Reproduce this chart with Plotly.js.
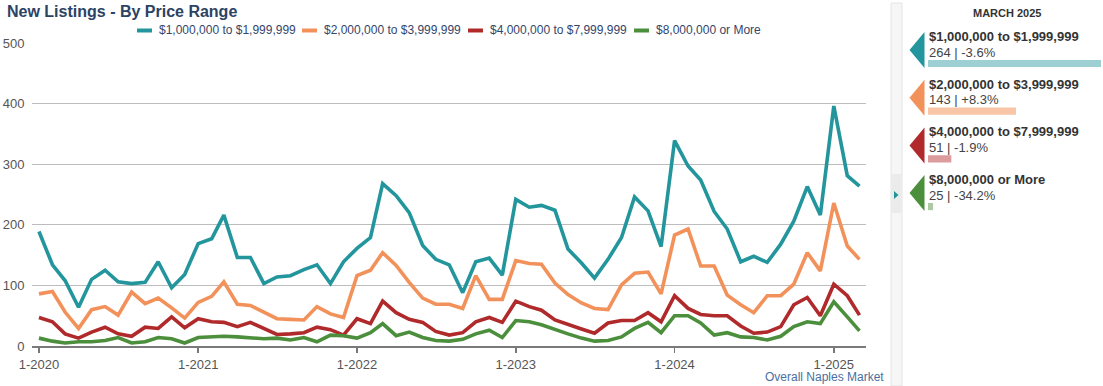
<!DOCTYPE html>
<html>
<head>
<meta charset="utf-8">
<script src="https://cdn.plot.ly/plotly-3.0.1.min.js"></script>
<style>
  html, body { margin: 0; padding: 0; background: #ffffff; }
  #chart { width: 1103px; height: 386px; }
</style>
</head>
<body>
<div id="chart"></div>
<script>
// ---------------- DATA ----------------
const months = [
  '2020-01','2020-02','2020-03','2020-04','2020-05','2020-06','2020-07','2020-08','2020-09','2020-10','2020-11','2020-12',
  '2021-01','2021-02','2021-03','2021-04','2021-05','2021-06','2021-07','2021-08','2021-09','2021-10','2021-11','2021-12',
  '2022-01','2022-02','2022-03','2022-04','2022-05','2022-06','2022-07','2022-08','2022-09','2022-10','2022-11','2022-12',
  '2023-01','2023-02','2023-03','2023-04','2023-05','2023-06','2023-07','2023-08','2023-09','2023-10','2023-11','2023-12',
  '2024-01','2024-02','2024-03','2024-04','2024-05','2024-06','2024-07','2024-08','2024-09','2024-10','2024-11','2024-12',
  '2025-01','2025-02','2025-03'
];

const seriesNames = [
  '$1,000,000 to $1,999,999',
  '$2,000,000 to $3,999,999',
  '$4,000,000 to $7,999,999',
  '$8,000,000 or More'
];

const range1to2M = [
  189, 134, 108, 64, 110, 125, 106, 103, 105, 139, 96, 118,
  169, 177, 216, 146, 146, 103, 114, 116, 126, 134, 103, 139,
  161, 179, 268, 248, 220, 166, 143, 134, 88, 139, 145, 117,
  242, 229, 232, 224, 160, 137, 112, 143, 179, 246, 223, 164,
  339, 297, 274, 222, 193, 139, 148, 138, 168, 206, 263, 216,
  396, 281, 264
];
const range2to4M = [
  86, 90, 56, 29, 60, 65, 51, 89, 70, 79, 63, 46,
  72, 82, 106, 69, 67, 56, 45, 44, 43, 65, 53, 47,
  116, 125, 154, 133, 105, 79, 69, 69, 62, 116, 77, 77,
  141, 136, 135, 104, 85, 71, 62, 60, 101, 120, 122, 86,
  183, 193, 132, 132, 84, 68, 55, 83, 83, 102, 154, 124,
  236, 165, 143
];
const range4to8M = [
  47, 40, 20, 13, 23, 31, 20, 16, 31, 29, 48, 30,
  45, 40, 39, 32, 39, 28, 19, 20, 22, 31, 27, 18,
  45, 37, 74, 55, 44, 39, 24, 18, 22, 40, 47, 39,
  74, 65, 59, 43, 35, 28, 21, 38, 42, 42, 55, 40,
  83, 62, 52, 50, 50, 33, 21, 23, 32, 68, 80, 50,
  102, 83, 51
];
const range8MPlus = [
  13, 8, 5, 7, 7, 9, 14, 5, 7, 14, 12, 5,
  14, 15, 16, 15, 13, 12, 13, 10, 14, 7, 18, 17,
  13, 22, 37, 17, 23, 14, 9, 8, 11, 20, 26, 14,
  42, 40, 35, 27, 20, 13, 8, 9, 15, 29, 39, 22,
  50, 50, 38, 18, 22, 15, 14, 10, 16, 32, 40, 37,
  73, 48, 25
];

const yTicks = [0, 100, 200, 300, 400, 500];
const panelTitle = 'MARCH 2025';
const footnote = 'Overall Naples Market';
const chartTitle = 'New Listings - By Price Range';

// ---------------- STYLE ----------------
const lineColors  = ['#23959c', '#f2915a', '#b02a2b', '#4b8e3b'];
const lightColors = ['#9ecfd3', '#f8c5a6', '#dc9c9d', '#adcaa4'];
const FONT = 'Liberation Sans, Arial, Helvetica, sans-serif';

const W = 1103, H = 386;
const ML = 32, MR = 2, MT = 43, MB = 40;
const PW = W - ML - MR, PH = H - MT - MB;
const px = x => (x - ML) / PW;
const py = y => (H - MB - y) / PH;

const allSeries = [range1to2M, range2to4M, range4to8M, range8MPlus];

// ---------------- TRACES ----------------
const traces = allSeries.map((vals, i) => ({
  type: 'scatter',
  mode: 'lines',
  name: seriesNames[i],
  x: months,
  y: vals,
  xaxis: 'x', yaxis: 'y',
  line: { color: lineColors[i], width: 3.6, shape: 'linear' },
  showlegend: false,
  hoverinfo: 'skip'
}));

const latest = allSeries.map(v => v[v.length - 1]);
const yearAgo = allSeries.map(v => v[v.length - 13]);

traces.push({
  type: 'bar',
  orientation: 'h',
  x: latest,
  y: seriesNames,
  xaxis: 'x2', yaxis: 'y2',
  marker: { color: lightColors, line: { width: 0 } },
  width: 0.15,
  showlegend: false,
  hoverinfo: 'skip'
});

// ---------------- DECORATIONS ----------------
const shapes = [];
const annotations = [];

// Title
annotations.push({
  xref: 'paper', yref: 'paper', x: px(5), y: py(11),
  xanchor: 'left', yanchor: 'middle', showarrow: false,
  text: '<b>' + chartTitle + '</b>',
  font: { family: FONT, size: 16, color: '#2b4364' }
});

// Custom legend
const legendStarts = [137, 302, 468, 634];
seriesNames.forEach((n, i) => {
  const x0 = legendStarts[i];
  shapes.push({
    type: 'line', xref: 'paper', yref: 'paper',
    x0: px(x0), x1: px(x0 + 15), y0: py(30.5), y1: py(30.5),
    line: { color: lineColors[i], width: 4 }
  });
  annotations.push({
    xref: 'paper', yref: 'paper', x: px(x0 + 20), y: py(30.5),
    xanchor: 'left', yanchor: 'middle', showarrow: false,
    text: n, font: { family: FONT, size: 12, color: '#34466a' }
  });
});

// Footnote
annotations.push({
  xref: 'paper', yref: 'paper', x: px(886), y: py(386),
  xanchor: 'right', yanchor: 'bottom', showarrow: false,
  text: footnote, font: { family: FONT, size: 12, color: '#4a6f9f' }
});

// Side strip
shapes.push({
  type: 'rect', xref: 'paper', yref: 'paper', layer: 'below',
  x0: px(891), x1: px(902), y0: py(386), y1: py(3),
  fillcolor: '#f6f6f6', line: { color: '#e4e4e4', width: 1 }
});
shapes.push({
  type: 'rect', xref: 'paper', yref: 'paper', layer: 'below',
  x0: px(891.5), x1: px(901.5), y0: py(213), y1: py(174),
  fillcolor: '#ebebeb', line: { width: 0 }
});
shapes.push({
  type: 'path', xref: 'paper', yref: 'paper',
  path: `M ${px(894)} ${py(191)} L ${px(898.5)} ${py(195)} L ${px(894)} ${py(199)} Z`,
  fillcolor: lineColors[0], line: { width: 0 }
});

// Panel title
annotations.push({
  xref: 'paper', yref: 'paper', x: px(1007), y: py(13),
  xanchor: 'center', yanchor: 'middle', showarrow: false,
  text: '<b>' + panelTitle + '</b>',
  font: { family: FONT, size: 11, color: '#333333' }
});

// Panel entries
const step = 47.7;
seriesNames.forEach((n, i) => {
  const top = 32 + step * i, bot = 68 + step * i, mid = (top + bot) / 2;
  shapes.push({
    type: 'path', xref: 'paper', yref: 'paper',
    path: `M ${px(924.5)} ${py(top)} L ${px(909.5)} ${py(mid)} L ${px(924.5)} ${py(bot)} Z`,
    fillcolor: lineColors[i], line: { width: 0 }
  });
  annotations.push({
    xref: 'paper', yref: 'paper', x: px(927), y: py(36.5 + step * i),
    xanchor: 'left', yanchor: 'middle', showarrow: false,
    text: '<b>' + n + '</b>',
    font: { family: FONT, size: 13, color: '#333333' }
  });
  const pct = (latest[i] / yearAgo[i] - 1) * 100;
  const pctTxt = (pct >= 0 ? '+' : '') + pct.toFixed(1) + '%';
  annotations.push({
    xref: 'paper', yref: 'paper', x: px(927), y: py(52 + step * i),
    xanchor: 'left', yanchor: 'middle', showarrow: false,
    text: latest[i] + ' | ' + pctTxt,
    font: { family: FONT, size: 13, color: '#444444' }
  });
});

// ---------------- LAYOUT ----------------
const layout = {
  width: W, height: H,
  margin: { l: ML, r: MR, t: MT, b: MB, pad: 0 },
  paper_bgcolor: '#ffffff',
  plot_bgcolor: 'rgba(0,0,0,0)',
  font: { family: FONT, size: 13, color: '#555555' },
  showlegend: false,
  hovermode: false,
  xaxis: {
    type: 'date',
    domain: [0, px(866)],
    range: ['2019-12-16', '2025-03-16'],
    tick0: '2020-01-01', dtick: 'M12',
    tickformat: '%-m-%Y',
    ticks: 'outside', ticklen: 5, tickwidth: 1.5, tickcolor: '#777777',
    showgrid: false, zeroline: false,
    showline: true, linecolor: '#7a7a7a', linewidth: 2,
    tickfont: { family: FONT, size: 13, color: '#555555' },
    fixedrange: true
  },
  yaxis: {
    range: [0, 500],
    tickvals: yTicks,
    ticks: 'outside', ticklen: 4, tickcolor: 'rgba(0,0,0,0)',
    showgrid: true, gridcolor: '#bdbdbd', gridwidth: 1,
    zeroline: false, showline: false,
    tickfont: { family: FONT, size: 13, color: '#555555' },
    fixedrange: true
  },
  xaxis2: {
    domain: [px(928), 1],
    range: [17.8, 264],
    anchor: 'y2',
    visible: false, showgrid: false, zeroline: false, fixedrange: true
  },
  yaxis2: {
    type: 'category',
    domain: [0, 1],
    range: [3 + (H - MB - (63.5 + 3 * step)) / step, -(63.5 - MT) / step],
    anchor: 'x2',
    visible: false, showgrid: false, zeroline: false, fixedrange: true
  },
  shapes: shapes,
  annotations: annotations
};

Plotly.newPlot('chart', traces, layout, { displayModeBar: false, staticPlot: true });
</script>
</body>
</html>
